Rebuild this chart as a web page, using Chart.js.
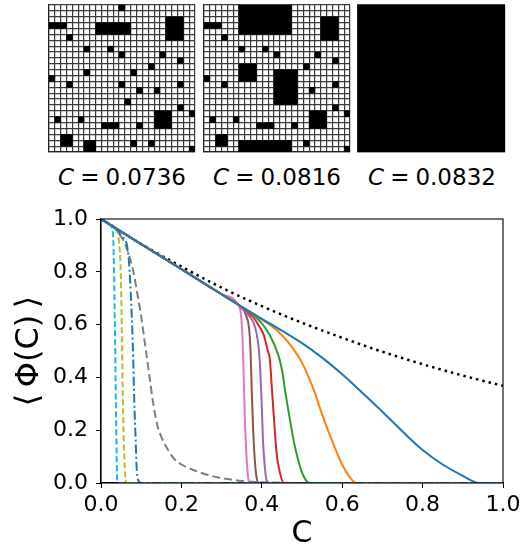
<!DOCTYPE html>
<html>
<head>
<meta charset="utf-8">
<script src="https://cdn.jsdelivr.net/npm/chart.js@4.4.1/dist/chart.umd.min.js"></script>
<style>
  body { margin: 0; width: 525px; height: 548px; overflow: hidden; background: #fff; position: relative; font-family: "DejaVu Sans", sans-serif; }
  canvas { position: absolute; }
  .glabel { position: absolute; width: 170px; text-align: center; font-size: 23px; line-height: 23px; top: 166px; color: #000; }
  .glabel span { margin: 0 6px; }
</style>
</head>
<body>
<canvas id="grid-1" width="148" height="149" style="left:48px; top:4px"></canvas>
<canvas id="grid-2" width="148" height="149" style="left:203px; top:4px"></canvas>
<canvas id="grid-3" width="149" height="149" style="left:357px; top:4px"></canvas>
<div class="glabel" style="left:37px"><i>C</i><span>=</span>0.0736</div>
<div class="glabel" style="left:192px"><i>C</i><span>=</span>0.0816</div>
<div class="glabel" style="left:347px"><i>C</i><span>=</span>0.0832</div>
<canvas id="phi-chart" width="525" height="365" style="left:0; top:195px"></canvas>
<script>
// lattice snapshots: black blocks as [col, row, width, height] on a 25x25 grid
const gridSize = 25;
const grid1Blocks = [[12,0,1,1],[0,3,3,1],[8,3,6,2],[20,2,3,4],[3,5,1,1],[6,7,1,1],[10,7,1,1],[12,8,1,1],[19,8,1,1],
  [22,9,1,1],[17,10,1,1],[6,11,1,1],[14,11,1,1],[0,12,1,1],[3,13,1,1],[12,13,1,1],[22,13,1,1],[15,14,1,1],[18,14,1,1],
  [13,16,1,1],[22,17,1,1],[24,18,1,1],[1,19,1,1],[5,19,1,1],[18,18,3,3],[9,20,3,1],[15,20,1,1],[2,22,2,2],[6,23,2,2],
  [14,23,1,1],[17,23,1,1],[24,24,1,1]];
const grid2Blocks = [[6,0,9,5],[0,3,3,1],[20,2,3,4],[3,5,1,1],[6,7,1,1],[10,7,1,1],[12,8,1,1],[19,8,1,1],[22,9,1,1],
  [17,10,1,1],[6,10,3,3],[12,11,4,6],[0,12,1,1],[3,13,1,1],[22,13,1,1],[18,14,1,1],[22,17,1,1],[24,18,1,1],[1,19,1,1],
  [5,19,1,1],[18,18,3,3],[9,20,3,1],[15,20,1,1],[2,22,2,2],[6,23,9,2],[17,23,1,1],[24,24,1,1]];
const grid3Blocks = [[0,0,25,25]];

// <Phi(C)> curves
const cDotted = [0, 0.1, 0.2, 0.3, 0.4, 0.5, 0.6, 0.7, 0.8, 0.9, 1.0];
const phiDotted = [1.0, 0.905, 0.82, 0.74, 0.67, 0.607, 0.55, 0.497, 0.45, 0.407, 0.368];

const cBlue = [0, 0.1, 0.2, 0.3, 0.34, 0.4, 0.45, 0.5, 0.55, 0.6, 0.65, 0.7, 0.75, 0.8, 0.85, 0.9, 0.94, 1.0];
const phiBlue = [1.0, 0.905, 0.81, 0.715, 0.677, 0.622, 0.577, 0.53, 0.475, 0.412, 0.342, 0.27, 0.195, 0.125, 0.07, 0.027, 0, 0];
const cOrange = [0, 0.1, 0.2, 0.3, 0.34, 0.4, 0.44, 0.47, 0.5, 0.53, 0.55, 0.58, 0.6, 0.62, 0.635, 1.0];
const phiOrange = [1.0, 0.905, 0.81, 0.715, 0.677, 0.62, 0.575, 0.525, 0.455, 0.35, 0.26, 0.14, 0.07, 0.02, 0, 0];
const cGreen = [0, 0.1, 0.2, 0.3, 0.34, 0.38, 0.4, 0.42, 0.44, 0.45, 0.46, 0.47, 0.48, 0.49, 0.5, 0.51, 0.52, 1.0];
const phiGreen = [1.0, 0.905, 0.81, 0.715, 0.677, 0.635, 0.605, 0.56, 0.49, 0.43, 0.33, 0.24, 0.155, 0.09, 0.04, 0.01, 0, 0];
const cRed = [0, 0.1, 0.2, 0.3, 0.34, 0.36, 0.38, 0.395, 0.405, 0.415, 0.42, 0.425, 0.43, 0.437, 0.445, 0.455, 1.0];
const phiRed = [1.0, 0.905, 0.81, 0.715, 0.677, 0.655, 0.625, 0.59, 0.56, 0.5, 0.47, 0.36, 0.25, 0.11, 0.04, 0, 0];
const cPurple = [0, 0.1, 0.2, 0.3, 0.34, 0.355, 0.37, 0.38, 0.387, 0.393, 0.397, 0.4, 0.403, 0.407, 0.412, 0.42, 1.0];
const phiPurple = [1.0, 0.905, 0.81, 0.715, 0.677, 0.655, 0.63, 0.605, 0.567, 0.5, 0.4, 0.29, 0.16, 0.07, 0.01, 0, 0];
const cBrown = [0, 0.1, 0.2, 0.3, 0.34, 0.355, 0.362, 0.368, 0.372, 0.375, 0.378, 0.382, 0.387, 0.392, 1.0];
const phiBrown = [1.0, 0.905, 0.81, 0.715, 0.677, 0.655, 0.63, 0.59, 0.5, 0.35, 0.22, 0.1, 0.02, 0, 0];
const cPink = [0, 0.1, 0.2, 0.3, 0.342, 0.348, 0.352, 0.355, 0.358, 0.362, 0.366, 0.37, 1.0];
const phiPink = [1.0, 0.905, 0.81, 0.715, 0.674, 0.64, 0.55, 0.4, 0.24, 0.1, 0.02, 0, 0];

const cGray = [0, 0.03, 0.047, 0.06, 0.07, 0.08, 0.09, 0.1, 0.11, 0.12, 0.13, 0.14, 0.15, 0.163, 0.18, 0.2, 0.213, 0.25, 0.288, 0.32, 0.35, 0.4, 0.5, 1.0];
const phiGray = [1.0, 0.97, 0.94, 0.905, 0.86, 0.805, 0.72, 0.63, 0.52, 0.41, 0.3, 0.22, 0.175, 0.135, 0.095, 0.07, 0.06, 0.038, 0.022, 0.014, 0.008, 0.003, 0, 0];
const cOlive = [0, 0.03, 0.039, 0.045, 0.049, 0.051, 0.053, 0.055, 0.057, 0.06, 0.063, 1.0];
const phiOlive = [1.0, 0.97, 0.958, 0.91, 0.8, 0.655, 0.45, 0.27, 0.14, 0.04, 0, 0];
const cCyan = [0, 0.02, 0.028, 0.031, 0.033, 0.035, 0.037, 0.039, 0.04, 0.042, 1.0];
const phiCyan = [1.0, 0.98, 0.962, 0.9, 0.75, 0.55, 0.3, 0.1, 0.02, 0, 0];
const cDashDot = [0, 0.04, 0.051, 0.064, 0.07, 0.074, 0.079, 0.083, 0.086, 0.089, 0.093, 0.1, 1.0];
const phiDashDot = [1.0, 0.96, 0.935, 0.905, 0.83, 0.72, 0.53, 0.3, 0.17, 0.05, 0.01, 0, 0];

const axisTicks = [0, 0.2, 0.4, 0.6, 0.8, 1.0];

function blocksToCells(blocks) {
  let cells = [];
  for (let i = 0; i < blocks.length; i++) {
    let b = blocks[i];
    for (let c = b[0]; c < b[0] + b[2]; c++) {
      for (let r = b[1]; r < b[1] + b[3]; r++) {
        cells.push({x: c + 0.5, y: r + 0.5});
      }
    }
  }
  return cells;
}

function makeGrid(id, blocks) {
  let gridAxis = {
    type: "linear", min: 0, max: gridSize,
    ticks: {display: false, stepSize: 1},
    grid: {color: "#3a3a3a", lineWidth: 1.2, drawTicks: false},
    border: {display: true, color: "#222", width: 1.2},
    afterFit: function(scale) { scale.width = 0; scale.height = 0; }
  };
  new Chart(id, {
    type: "scatter",
    data: {
      datasets: [{
        data: blocksToCells(blocks),
        pointStyle: "rect",
        backgroundColor: "#000",
        borderWidth: 0,
        pointRadius: function(ctx) {
          let area = ctx.chart.chartArea;
          let side = area ? area.width / gridSize + 0.6 : 6;
          return side * Math.SQRT1_2;
        },
        pointHoverRadius: 0
      }]
    },
    options: {
      responsive: false, animation: false, events: [],
      layout: {padding: 1, autoPadding: false},
      plugins: {legend: {display: false}, tooltip: {enabled: false}},
      scales: {x: gridAxis, y: Object.assign({}, gridAxis, {reverse: true})}
    }
  });
}

makeGrid("grid-1", grid1Blocks);
makeGrid("grid-2", grid2Blocks);
makeGrid("grid-3", grid3Blocks);

function toPoints(xs, ys) {
  let pts = [];
  for (let i = 0; i < xs.length; i++) pts.push({x: xs[i], y: ys[i]});
  return pts;
}

function line(xs, ys, color, dash, width) {
  return {
    data: toPoints(xs, ys),
    borderColor: color,
    backgroundColor: color,
    borderWidth: width || 2,
    borderDash: dash || [],
    fill: false,
    pointRadius: 0,
    cubicInterpolationMode: "monotone"
  };
}

// box around the plot, like matplotlib spines
const frame = {
  id: "frame",
  afterDraw: function(chart) {
    let a = chart.chartArea;
    let ctx = chart.ctx;
    ctx.save();
    ctx.strokeStyle = "#000";
    ctx.lineWidth = 1.1;
    ctx.strokeRect(a.left, a.top, a.right - a.left, a.bottom - a.top);
    ctx.restore();
  }
};

const tickFont = {family: "DejaVu Sans", size: 22};

new Chart("phi-chart", {
  type: "line",
  data: {
    datasets: [
      line(cBlue, phiBlue, "#1f77b4"),
      line(cDashDot, phiDashDot, "#1f77b4", [9, 3, 2, 3]),
      line(cOrange, phiOrange, "#ff7f0e"),
      line(cGreen, phiGreen, "#2ca02c"),
      line(cRed, phiRed, "#d62728"),
      line(cPurple, phiPurple, "#9467bd"),
      line(cBrown, phiBrown, "#8c564b"),
      line(cPink, phiPink, "#e377c2"),
      line(cGray, phiGray, "#7f7f7f", [8, 4]),
      line(cOlive, phiOlive, "#bcbd22", [6, 3]),
      line(cCyan, phiCyan, "#17becf", [6, 3]),
      line(cDotted, phiDotted, "#000", [2.5, 4], 2.5)
    ]
  },
  options: {
    responsive: false, animation: false, events: [],
    layout: {padding: {top: 24, right: 22, left: 0, bottom: 0}, autoPadding: false},
    plugins: {legend: {display: false}, tooltip: {enabled: false}},
    scales: {
      x: {
        type: "linear", min: 0, max: 1,
        afterBuildTicks: function(scale) { scale.ticks = axisTicks.map(v => ({value: v})); },
        ticks: {font: tickFont, color: "#000", padding: 4, maxRotation: 0, callback: v => v.toFixed(1)},
        grid: {drawOnChartArea: false, color: "#000", tickLength: 5},
        border: {color: "#000", width: 1.1},
        title: {display: true, text: "C", color: "#000", font: {family: "DejaVu Sans", size: 30}, padding: {top: 0, bottom: 8}},
        afterFit: function(scale) { scale.height = 77; }
      },
      y: {
        type: "linear", min: 0, max: 1,
        afterBuildTicks: function(scale) { scale.ticks = axisTicks.map(v => ({value: v})); },
        ticks: {font: tickFont, color: "#000", padding: 8, callback: v => v.toFixed(1)},
        grid: {drawOnChartArea: false, color: "#000", tickLength: 5},
        border: {color: "#000", width: 1.1},
        title: {display: true, text: "⟨\u2009Φ(C)\u2009⟩", color: "#000", font: {family: "DejaVu Sans", size: 32}, padding: {top: 10, bottom: 0}},
        afterFit: function(scale) { scale.width = 101; }
      }
    }
  },
  plugins: [frame]
});
</script>
</body>
</html>
